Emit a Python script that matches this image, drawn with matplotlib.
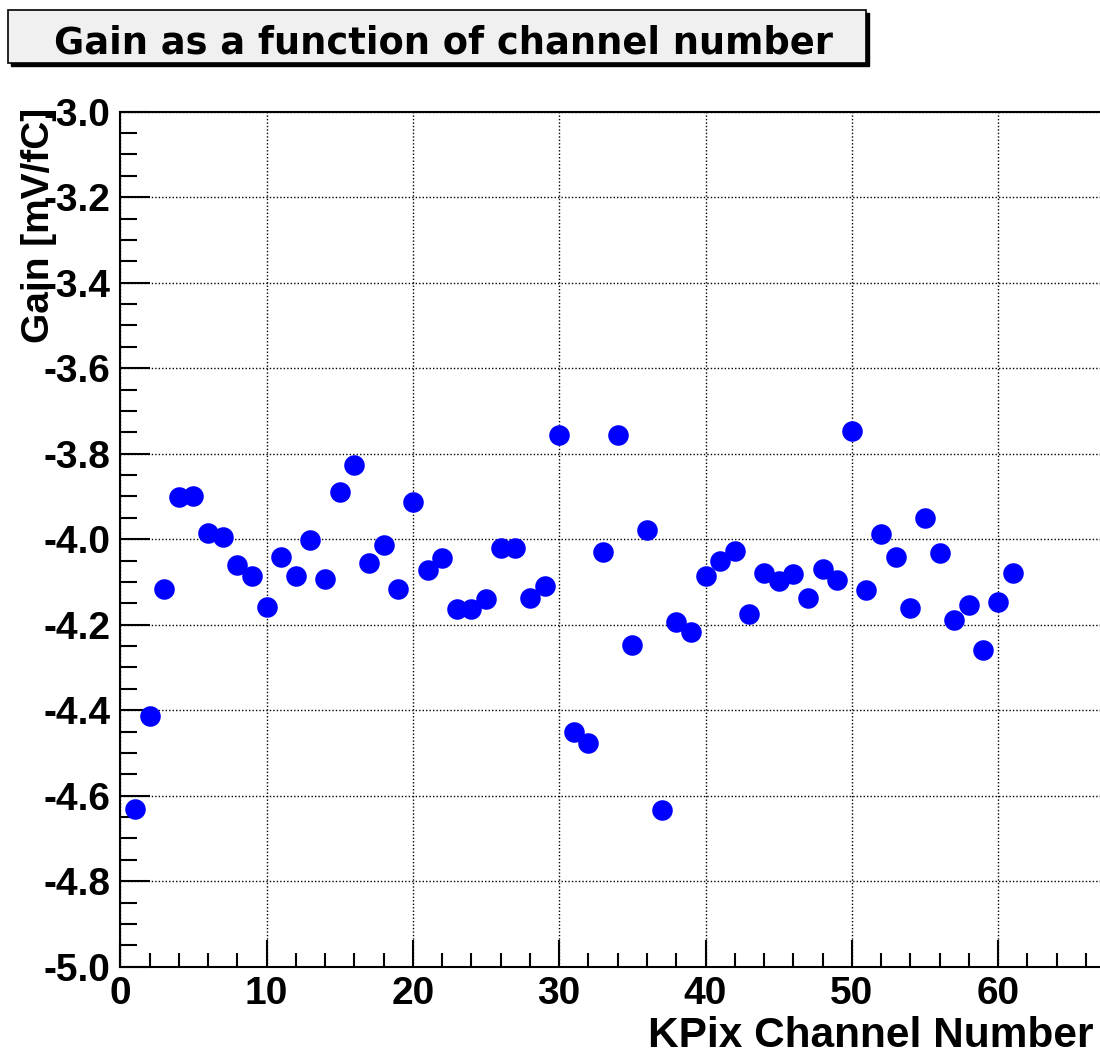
import matplotlib.pyplot as plt
from matplotlib.patches import Rectangle
from matplotlib.ticker import MultipleLocator, FixedLocator, FormatStrFormatter

# gain per KPix channel
channels = list(range(1, 62))
gain = [-4.630, -4.414, -4.117, -3.902, -3.899, -3.986, -3.994, -4.060, -4.085, -4.158,
        -4.041, -4.085, -4.002, -4.092, -3.890, -3.826, -4.055, -4.014, -4.117, -3.913,
        -4.072, -4.045, -4.164, -4.164, -4.141, -4.021, -4.021, -4.138, -4.109, -3.756,
        -4.452, -4.477, -4.031, -3.756, -4.247, -3.978, -4.634, -4.193, -4.218, -4.085,
        -4.051, -4.028, -4.175, -4.078, -4.097, -4.082, -4.138, -4.070, -4.095, -3.747,
        -4.120, -3.988, -4.041, -4.162, -3.951, -4.032, -4.188, -4.154, -4.259, -4.146,
        -4.080]

x_major = [0, 10, 20, 30, 40, 50, 60]
title = 'Gain as a function of channel number'
xlabel = 'KPix Channel Number'
ylabel = 'Gain [mV/fC]'

plt.rcParams['font.family'] = ['Liberation Sans', 'DejaVu Sans']
plt.rcParams['font.weight'] = 'bold'
plt.rcParams['axes.unicode_minus'] = False

W, H = 1100, 1057
fig = plt.figure(figsize=(W / 100, H / 100), dpi=100)
ax = fig.add_axes([120.3 / W, 1 - 966.7 / H, 70 * 14.63 / W, 855.0 / H])

ax.plot(channels, gain, 'o', color='#0000ff', markersize=14.8, markeredgewidth=0, zorder=3)

ax.set_xlim(0, 70)
ax.set_ylim(-5.0, -3.0)
ax.xaxis.set_major_locator(FixedLocator(x_major))
ax.xaxis.set_minor_locator(MultipleLocator(2))
ax.yaxis.set_major_locator(MultipleLocator(0.2))
ax.yaxis.set_minor_locator(MultipleLocator(0.05))
ax.xaxis.set_major_formatter(FormatStrFormatter('%d'))
ax.yaxis.set_major_formatter(FormatStrFormatter('%.1f'))

ax.grid(True, which='major', color='black', linestyle=(0, (1, 1.5)), linewidth=1.0)
ax.set_axisbelow(True)

for s in ax.spines.values():
    s.set_linewidth(1.5)
    s.set_color('black')

ax.tick_params(axis='both', which='both', direction='in', top=False, right=False, width=1.5)
ax.tick_params(axis='y', which='major', length=21.5, pad=7, labelsize=28)
ax.tick_params(axis='y', which='minor', length=12)
ax.tick_params(axis='x', which='major', length=19.5, pad=7, labelsize=28)
ax.tick_params(axis='x', which='minor', length=10)

# axis titles, ROOT style (at the ends of the axes)
fig.text(39 / W, 1 - 108 / H, ylabel, rotation=90, ha='center', va='top',
         fontsize=28, fontweight='bold')
fig.text(1093 / W, 0.6 / H, xlabel, ha='right', va='bottom',
         fontsize=30.5, fontweight='bold')

# title box with shadow
fig.patches.append(Rectangle((11 / W, 1 - 66 / H), 858 / W, 53 / H,
                             transform=fig.transFigure, facecolor='black',
                             edgecolor='black', zorder=1))
fig.patches.append(Rectangle((8 / W, 1 - 63 / H), 858 / W, 53 / H,
                             transform=fig.transFigure, facecolor='#f0f0f0',
                             edgecolor='black', linewidth=1.2, zorder=2))
fig.text(443.5 / W, 1 - 53 / H, title, ha='center', va='baseline',
         fontsize=26.5, fontweight='bold', family=['DejaVu Sans'], zorder=3)

fig.savefig('out.png', dpi=100)
